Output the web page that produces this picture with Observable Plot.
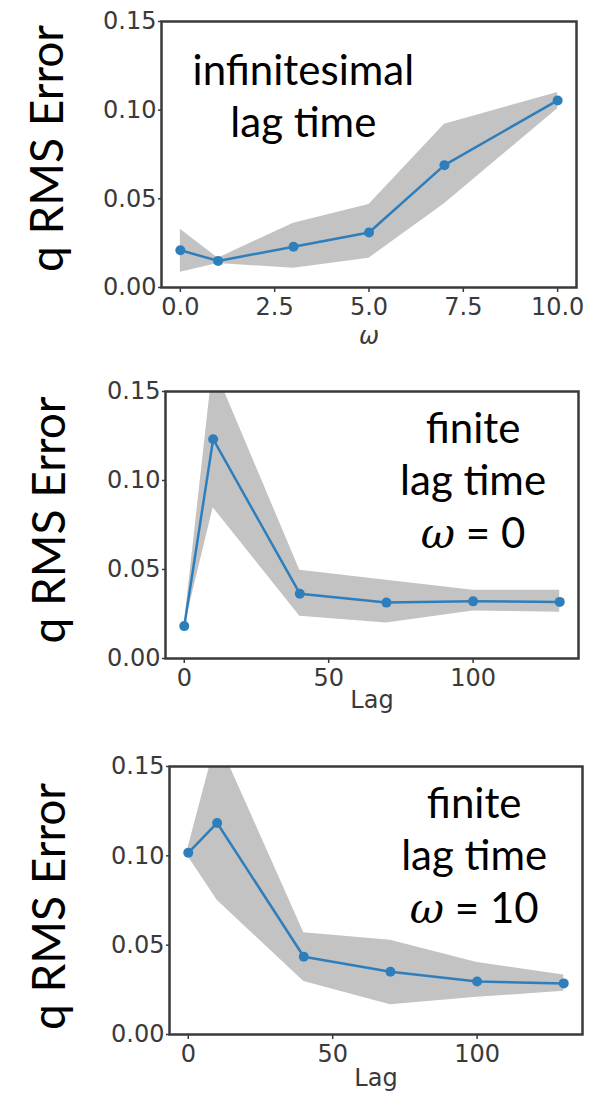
<!DOCTYPE html>
<html>
<head>
<meta charset="utf-8">
<script src="https://cdn.jsdelivr.net/npm/d3@7"></script>
<script src="https://cdn.jsdelivr.net/npm/@observablehq/plot@0.6"></script>
<style>
  html, body { margin: 0; padding: 0; background: white; }
  #wrap { position: relative; width: 604px; height: 1094px; overflow: hidden; background: white; }
  .panel { position: absolute; left: 0; }
  .panel svg { display: block; }
</style>
</head>
<body>
<div id="wrap">
  <div class="panel" id="p2" style="top:340px"></div>
  <div class="panel" id="p3" style="top:740px"></div>
  <div class="panel" id="p1" style="top:0px"></div>
</div>
<script>
// ---- Data ----
const yTicks = [0, 0.05, 0.10, 0.15];

// Panel 1: infinitesimal lag time, x = omega
const omega = [0, 1, 3, 5, 7, 10];
const err1 = [0.021, 0.015, 0.023, 0.031, 0.069, 0.1055];
const lo1 = [0.0086, 0.0135, 0.0109, 0.0165, 0.0472, 0.1008];
const hi1 = [0.0329, 0.0165, 0.0363, 0.0468, 0.0920, 0.1100];
const xTicks1 = [0, 2.5, 5, 7.5, 10];

// Panel 2: finite lag time, omega = 0
const lag = [0, 10, 40, 70, 100, 130];
const err2 = [0.0182, 0.1232, 0.0364, 0.0314, 0.0321, 0.0318];
const lo2 = [0.0175, 0.0847, 0.0237, 0.0199, 0.0267, 0.0260];
const hi2 = [0.0190, 0.1650, 0.0496, 0.0440, 0.0383, 0.0383];

// Panel 3: finite lag time, omega = 10
const err3 = [0.1017, 0.1184, 0.0435, 0.0351, 0.0297, 0.0286];
const lo3 = [0.0995, 0.0751, 0.0297, 0.0166, 0.0208, 0.0242];
const hi3 = [0.1050, 0.1660, 0.0570, 0.0528, 0.0403, 0.0333];
const xTicks23 = [0, 50, 100];

const yLabel = "q RMS Error";
const notes1 = "infinitesimal\nlag time";
const notes2 = "finite\nlag time";
const omegaLine2 = "ω = 0";
const omegaLine3 = "ω = 10";

// ---- Styling ----
const BLUE = "#2f7ebc";
const BAND = "#c3c3c3";
const AXIS = "#3a3a3a";
const ANNOT_FONT = "Lato, 'Open Sans', sans-serif";

function rows(xs, ys, los, his) {
  return xs.map((x, i) => ({x, y: ys[i], lo: los[i], hi: his[i]}));
}

function panel({data, height, mt, mb, ml, mr, xDomain, xTicks, xFmt, xLabel, xLabelDy, xLabelItalic, yLabelDx, yLabelDy, annots}) {
  return Plot.plot({
    width: 604, height,
    marginTop: mt, marginBottom: mb, marginLeft: ml, marginRight: mr,
    x: {domain: xDomain},
    y: {domain: [0, 0.15]},
    style: {fontFamily: "'DejaVu Sans', sans-serif", fontSize: "24px", color: AXIS, background: "transparent", overflow: "hidden"},
    marks: [
      Plot.areaY(data, {x: "x", y1: "lo", y2: "hi", fill: BAND, clip: true}),
      Plot.line(data, {x: "x", y: "y", stroke: BLUE, strokeWidth: 2.5}),
      Plot.dot(data, {x: "x", y: "y", r: 5, fill: BLUE, stroke: "none"}),
      Plot.axisX(xTicks, {tickFormat: xFmt, tickSize: 5, tickPadding: 5, label: null, stroke: AXIS, strokeWidth: 1.5, fontSize: 24}),
      Plot.axisY(yTicks, {tickFormat: d => d.toFixed(2), tickSize: 3, tickPadding: 2, label: null, stroke: AXIS, strokeWidth: 1.5, fontSize: 24}),
      Plot.frame({stroke: AXIS, strokeWidth: 2.5}),
      Plot.text([xLabel], {text: d => d, frameAnchor: "bottom", lineAnchor: "top", dy: xLabelDy, fontSize: 24, fill: AXIS,
        fontStyle: xLabelItalic ? "italic" : "normal"}),
      Plot.text([yLabel], {text: d => d, frameAnchor: "left", rotate: -90, textAnchor: "middle", lineAnchor: "bottom",
        dx: yLabelDx, dy: yLabelDy, fontSize: 46, fontFamily: ANNOT_FONT, fill: "black"}),
      ...annots
    ]
  });
}

function note(text, x, y) {
  return Plot.text([text], {text: d => d, x: () => x, y: () => y, textAnchor: "middle", lineAnchor: "bottom",
    lineHeight: 1.24, fontSize: 42, fontFamily: ANNOT_FONT, fill: "black"});
}

const p1 = panel({
  data: rows(omega, err1, lo1, hi1), height: 352, mt: 21, mb: 65, ml: 161, mr: 28,
  xDomain: [-0.5, 10.5], xTicks: xTicks1, xFmt: d => d.toFixed(1), xLabel: "ω", xLabelDy: 39, xLabelItalic: true,
  yLabelDx: 62 - 161, yLabelDy: -6,
  annots: [note(notes1, 3.26, 0.0846)]
});
const p2 = panel({
  data: rows(lag, err2, lo2, hi2), height: 400, mt: 51, mb: 82, ml: 165, mr: 26,
  xDomain: [-6.5, 136.5], xTicks: xTicks23, xFmt: d => String(d), xLabel: "Lag", xLabelDy: 32,
  yLabelDx: 64 - 165, yLabelDy: -5,
  annots: [note(notes2, 100, 0.0916), note(omegaLine2, 100, 0.0619)]
});
const p3 = panel({
  data: rows(lag, err3, lo3, hi3), height: 354, mt: 26, mb: 60, ml: 169, mr: 22,
  xDomain: [-6.5, 136.5], xTicks: xTicks23, xFmt: d => String(d), xLabel: "Lag", xLabelDy: 34,
  yLabelDx: 64 - 169, yLabelDy: 6,
  annots: [note(notes2, 99, 0.0919), note(omegaLine3, 99, 0.0622)]
});

document.getElementById("p1").appendChild(p1);
document.getElementById("p2").appendChild(p2);
document.getElementById("p3").appendChild(p3);

// Italic omega in annotation lines
for (const svg of [p2, p3]) {
  for (const t of svg.querySelectorAll("text")) {
    const s = t.textContent;
    if (s.startsWith("ω =")) {
      t.textContent = "";
      const ts = document.createElementNS("http://www.w3.org/2000/svg", "tspan");
      ts.setAttribute("font-style", "italic");
      ts.setAttribute("font-family", "'DejaVu Serif', serif");
      ts.textContent = "ω";
      t.appendChild(ts);
      t.appendChild(document.createTextNode(s.slice(1)));
    }
  }
}
</script>
</body>
</html>
